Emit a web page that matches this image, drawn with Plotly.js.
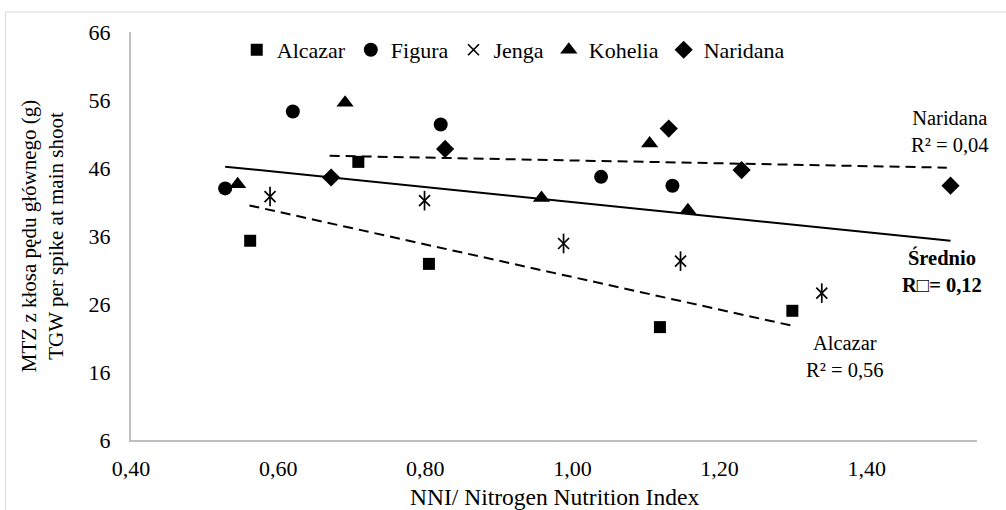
<!DOCTYPE html>
<html>
<head>
<meta charset="utf-8">
<script src="https://cdn.plot.ly/plotly-3.0.1.min.js"></script>
<style>html,body{margin:0;padding:0;background:#fff;}#chart{width:1006px;height:510px;}</style>
</head>
<body>
<div id="chart"></div>
<script>
// Data
const alcazarX = [0.562, 0.709, 0.805, 1.119, 1.299];
const alcazarY = [35.3, 46.9, 31.9, 22.6, 25.0];
const figuraX = [0.528, 0.620, 0.821, 1.039, 1.136];
const figuraY = [43.0, 54.3, 52.4, 44.7, 43.4];
const jengaX = [0.589, 0.799, 0.988, 1.147, 1.339];
const jengaY = [41.8, 41.2, 34.9, 32.3, 27.6];
const koheliaX = [0.545, 0.691, 0.958, 1.105, 1.157];
const koheliaY = [43.6, 55.6, 41.6, 49.6, 39.8];
const naridanaX = [0.672, 0.827, 1.131, 1.230, 1.514];
const naridanaY = [44.6, 48.8, 51.8, 45.7, 43.4];

// Trend lines (end points)
const trendAllX = [0.528, 1.514];
const trendAllY = [46.2, 35.3];
const trendNaridanaX = [0.670, 1.509];
const trendNaridanaY = [47.8, 46.05];
const trendAlcazarX = [0.561, 1.299];
const trendAlcazarY = [40.5, 22.8];

const xTickVals = [0.4, 0.6, 0.8, 1.0, 1.2, 1.4];
const xTickText = ['0,40', '0,60', '0,80', '1,00', '1,20', '1,40'];
const yTickVals = [6, 16, 26, 36, 46, 56, 66];
const xTitle = 'NNI/ Nitrogen Nutrition Index';
const yTitle = 'MTZ z kłosa pędu głównego (g)<br>TGW per spike at main shoot';

const FONT = 'Liberation Serif';
const mk = (sym, size, extra) => Object.assign({symbol: sym, size: size, color: '#000'}, extra || {});

const traces = [
  {x: trendAllX, y: trendAllY, mode: 'lines', line: {color: '#000', width: 2}, showlegend: false, hoverinfo: 'skip'},
  {x: trendNaridanaX, y: trendNaridanaY, mode: 'lines', line: {color: '#000', width: 2, dash: '10px,6px'}, showlegend: false, hoverinfo: 'skip'},
  {x: trendAlcazarX, y: trendAlcazarY, mode: 'lines', line: {color: '#000', width: 2, dash: '10px,6px'}, showlegend: false, hoverinfo: 'skip'},
  {name: 'Alcazar', x: alcazarX, y: alcazarY, mode: 'markers', marker: mk('square', 12)},
  {name: 'Figura', x: figuraX, y: figuraY, mode: 'markers', marker: mk('circle', 14)},
  {name: 'Jenga', x: jengaX, y: jengaY, mode: 'markers', marker: mk('x-thin-open', 11, {line: {color: '#000', width: 1.7}})},
  {name: 'Jenga', x: jengaX, y: jengaY, mode: 'markers', showlegend: false, marker: mk('line-ns-open', 14, {line: {color: '#000', width: 1.7}})},
  {name: 'Kohelia', x: koheliaX, y: koheliaY, mode: 'markers', marker: mk('triangle-up', 15)},
  {name: 'Naridana', x: naridanaX, y: naridanaY, mode: 'markers', marker: mk('diamond', 14)}
];

const layout = {
  width: 1006, height: 510,
  margin: {l: 131, r: 29, t: 32, b: 70},
  paper_bgcolor: '#fff', plot_bgcolor: '#fff',
  font: {family: FONT, size: 22, color: '#000'},
  showlegend: true,
  legend: {orientation: 'h', x: 0.125, xanchor: 'left', y: 0.956, yanchor: 'middle',
           font: {family: FONT, size: 22, color: '#000'}, bgcolor: 'rgba(0,0,0,0)', itemclick: false},
  xaxis: {
    range: [0.4, 1.55], tickvals: xTickVals, ticktext: xTickText,
    showgrid: false, zeroline: false, showline: true, linecolor: '#bfbfbf', linewidth: 2,
    ticks: '', ticklabelstandoff: 8,
    tickfont: {family: FONT, size: 22, color: '#000'}
  },
  yaxis: {
    range: [6, 66], tickvals: yTickVals,
    showgrid: false, zeroline: false, showline: true, linecolor: '#bfbfbf', linewidth: 2,
    ticks: '', ticklabelstandoff: 14, automargin: true,
    tickfont: {family: FONT, size: 22, color: '#000'},
    title: {text: yTitle, font: {family: FONT, size: 21, color: '#000'}, standoff: 19}
  },
  shapes: [
    {type: 'rect', xref: 'paper', yref: 'paper', x0: -0.1483, x1: 1.04, y0: -0.2, y1: 1.049,
     line: {color: '#d9d9d9', width: 1}, fillcolor: 'rgba(0,0,0,0)', layer: 'below'}
  ],
  annotations: [
    {x: 0.5, y: 0, xref: 'paper', yref: 'paper', yanchor: 'middle', yshift: -57, text: xTitle, showarrow: false,
     font: {family: FONT, size: 23.5, color: '#000'}},
    {x: 1.5127, y: 51.3, xref: 'x', yref: 'y', text: 'Naridana<br>R² = 0,04', showarrow: false,
     font: {family: FONT, size: 20.5, color: '#000'}, align: 'center'},
    {x: 1.370, y: 18.3, xref: 'x', yref: 'y', text: 'Alcazar<br>R² = 0,56', showarrow: false,
     font: {family: FONT, size: 20.5, color: '#000'}, align: 'center'},
    {x: 1.503, y: 30.85, xref: 'x', yref: 'y', text: '<b>Średnio</b><br><b>R□= 0,12</b>', showarrow: false,
     font: {family: FONT, size: 20.5, color: '#000'}, align: 'center'}
  ]
};

Plotly.newPlot('chart', traces, layout, {displayModeBar: false, staticPlot: true});
</script>
</body>
</html>
